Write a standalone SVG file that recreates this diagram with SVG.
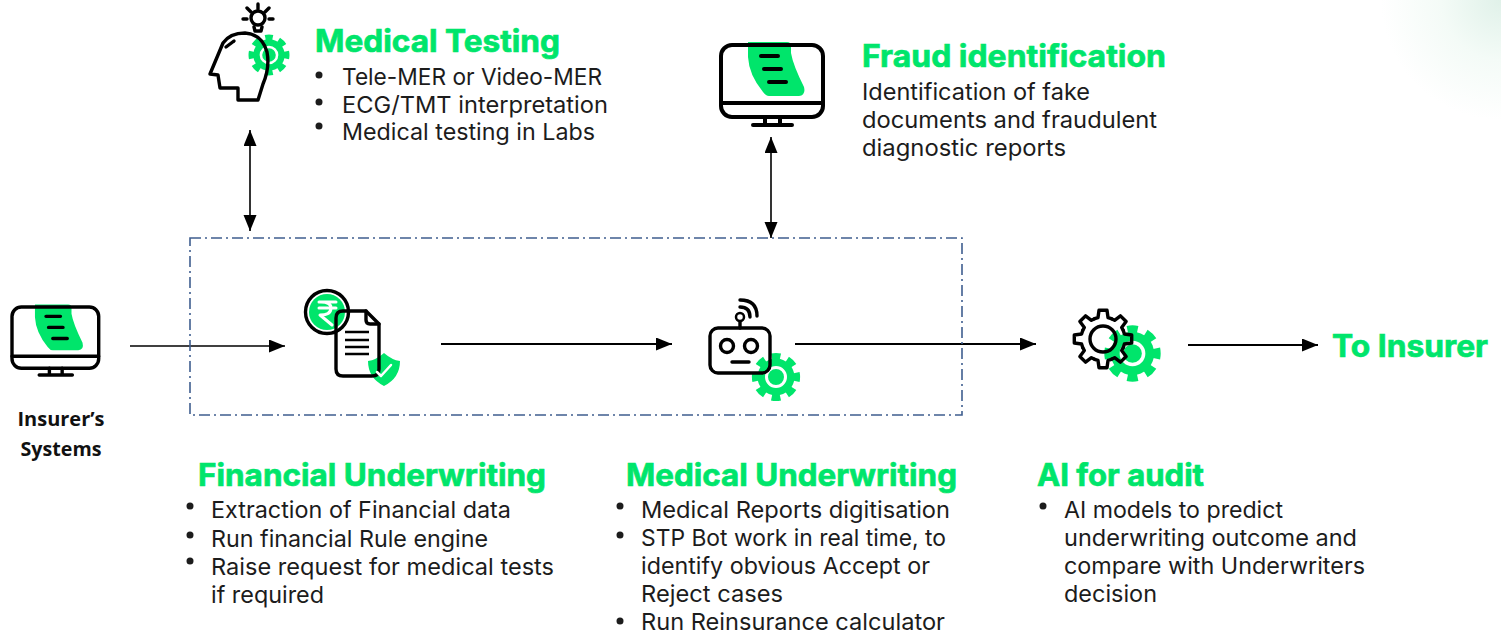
<svg xmlns="http://www.w3.org/2000/svg" xmlns:xlink="http://www.w3.org/1999/xlink" width="1501" height="636" viewBox="0 0 1501 636">
<style>
text{font-family:"Inter","Open Sans","Liberation Sans",sans-serif}
.b{font-size:23px;fill:#1c1c1c}
.h{font-size:31px;font-weight:700;fill:#00e56b;stroke:#00e56b;stroke-width:.7px}
.s{font-family:"Open Sans","Noto Sans",sans-serif;font-size:20px;font-weight:700;fill:#111;text-anchor:middle}
.k{fill:none;stroke:#000;stroke-width:4;stroke-linecap:round;stroke-linejoin:round}
.k3{fill:none;stroke:#000;stroke-width:3.4;stroke-linecap:round;stroke-linejoin:round}
.c{fill:none;stroke:#000;stroke-width:1.6}
.c2{fill:none;stroke:#000;stroke-width:2.2}
.dot{fill:#1c1c1c}
</style>
<defs>
<radialGradient id="corner" cx="1501" cy="0" r="120" gradientUnits="userSpaceOnUse">
<stop offset="0" stop-color="#e0f1e9"/><stop offset=".5" stop-color="#f4fbf7"/><stop offset="1" stop-color="#fff"/>
</radialGradient>
<marker id="a" markerWidth="17" markerHeight="14" refX="16" refY="6.500" orient="auto-start-reverse" markerUnits="userSpaceOnUse"><path d="M0 0L16 6.500L0 13z" fill="#000"/></marker>
<g id="monitor">
<path d="M27-3H66Q70-3 70 1V8Q72 20 83 42Q85 50 78 51H48Q45 51 42 47Q28 30 27 12z" fill="#00e56b"/>
<rect x="0" y="0" width="102" height="72" rx="11" class="k"/>
<path d="M0 58H102M44 72V80M59 72V80M32 80H71" class="k"/>
<path d="M40 11H57M43 24H60M48 37H65" class="k"/>
</g>
<g id="gear">
<circle r="20.6" fill="none" stroke="#00e56b" stroke-width="7" pathLength="16" stroke-dasharray="1.1 .9" stroke-dashoffset=".55"/>
<circle r="18.5" fill="#00e56b"/>
<circle r="9.5" fill="none" stroke="#fff" stroke-width="3"/>
</g>
<path id="t" d="M-8.4-20.3L-5-21.4L-4-28.7L4-28.7L5-21.4L8.4-20.3" class="k3"/>
</defs>
<rect width="1501" height="636" fill="#fff"/>
<rect x="1380" y="0" width="121" height="120" fill="url(#corner)"/>

<g id="connectors">
<path d="M130 346H285" class="c" marker-end="url(#a)"/>
<path d="M441 344H672" class="c2" marker-end="url(#a)"/>
<path d="M795 344H1036" class="c2" marker-end="url(#a)"/>
<path d="M1188 345H1318" class="c2" marker-end="url(#a)"/>
<path d="M250 130V231" class="c" marker-start="url(#a)" marker-end="url(#a)"/>
<path d="M771 137V238" class="c" marker-start="url(#a)" marker-end="url(#a)"/>
</g>

<g id="boundary"><rect x="190" y="238" width="772" height="177" fill="none" stroke="#3f5e8f" stroke-width="1.6" stroke-dasharray="11 4 2 4"/></g>

<g id="insurer-systems">
<use xlink:href="#monitor" href="#monitor" transform="translate(12 307) scale(.85)"/>
<text class="s" x="61" y="426" textLength="87" lengthAdjust="spacingAndGlyphs">Insurer’s</text>
<text class="s" x="61" y="456" textLength="81" lengthAdjust="spacingAndGlyphs">Systems</text>
</g>

<g id="medical-testing">
<use href="#gear" transform="translate(269 55) scale(.85)"/>
<path d="M210 74L223 43Q230 33 245 33Q262 34 267 52Q270 68 263 84L258 100H238V88H220L218 75z" class="k3"/>
<path d="M226 47L234 41" class="k3"/>
<circle cx="258" cy="18" r="7" class="k3"/>
<path d="M254 27L255 31H261L262 27M258 4V9M247 8L251 12M269 8L265 12M243 19H247M269 19H273" class="k3"/>
<text class="h" x="315" y="52" textLength="245" lengthAdjust="spacingAndGlyphs">Medical Testing</text>
<circle class="dot" cx="319" cy="75" r="3.5"/><circle class="dot" cx="319" cy="102" r="3.5"/><circle class="dot" cx="319" cy="126" r="3.5"/>
<text class="b" x="342" y="85" textLength="260" lengthAdjust="spacingAndGlyphs">Tele-MER or Video-MER</text>
<text class="b" x="342" y="113" textLength="266" lengthAdjust="spacingAndGlyphs">ECG/TMT interpretation</text>
<text class="b" x="342" y="140" textLength="253" lengthAdjust="spacingAndGlyphs">Medical testing in Labs</text>
</g>

<g id="fraud-identification">
<use href="#monitor" transform="translate(721 45)"/>
<text class="h" x="862" y="67" textLength="304" lengthAdjust="spacingAndGlyphs">Fraud identification</text>
<text class="b" x="862" y="100" textLength="228" lengthAdjust="spacingAndGlyphs">Identification of fake</text>
<text class="b" x="862" y="128" textLength="295" lengthAdjust="spacingAndGlyphs">documents and fraudulent</text>
<text class="b" x="862" y="156" textLength="204" lengthAdjust="spacingAndGlyphs">diagnostic reports</text>
</g>

<g id="financial-underwriting">
<circle cx="327" cy="312" r="18" fill="#00e56b"/>
<path d="M319 302H336M319 308H336M321 302Q331 302 331 308Q331 315 320 315L332 325" fill="none" stroke="#fff" stroke-width="3" stroke-linecap="round" stroke-linejoin="round"/>
<path d="M384 353Q376 360 368 361Q368 378 384 386Q400 378 400 361Q392 360 384 353z" fill="#00e56b"/>
<path d="M343 311H366L379 324V369Q379 376 372 376H343Q336 376 336 369V318Q336 311 343 311z" class="k3"/>
<path d="M366 311V320Q366 324 370 324H379" class="k3"/>
<path d="M345 332H369M345 340H369M345 347H369M345 354H369" class="k3" style="stroke-linecap:butt;stroke-width:2.6"/>
<circle cx="327" cy="312" r="21.5" class="k3"/>
<path d="M377 372L381 376L391 365" fill="none" stroke="#fff" stroke-width="2.5" stroke-linecap="round" stroke-linejoin="round"/>
<text class="h" x="198" y="486" textLength="348" lengthAdjust="spacingAndGlyphs">Financial Underwriting</text>
<circle class="dot" cx="190" cy="506" r="3.5"/><circle class="dot" cx="190" cy="535" r="3.5"/><circle class="dot" cx="190" cy="561" r="3.5"/>
<text class="b" x="211" y="518" textLength="300" lengthAdjust="spacingAndGlyphs">Extraction of Financial data</text>
<text class="b" x="211" y="547" textLength="277" lengthAdjust="spacingAndGlyphs">Run financial Rule engine</text>
<text class="b" x="211" y="575" textLength="343" lengthAdjust="spacingAndGlyphs">Raise request for medical tests</text>
<text class="b" x="211" y="603" textLength="113" lengthAdjust="spacingAndGlyphs">if required</text>
</g>

<g id="medical-underwriting">
<use href="#gear" transform="translate(776 377)"/>
<rect x="710" y="328" width="60" height="45" rx="8" class="k3"/>
<circle cx="727" cy="346" r="6.500" class="k3"/><circle cx="751" cy="346" r="6.500" class="k3"/>
<path d="M732 362H749M740 322V328" class="k3"/>
<circle cx="740" cy="317" r="4" class="k3" style="stroke-width:2.5"/>
<path d="M740 307Q750 307 750 317M740 300Q757 300 757 316" class="k3"/>
<text class="h" x="626" y="486" textLength="331" lengthAdjust="spacingAndGlyphs">Medical Underwriting</text>
<circle class="dot" cx="620" cy="506" r="3.5"/><circle class="dot" cx="620" cy="535" r="3.5"/><circle class="dot" cx="620" cy="621" r="3.5"/>
<text class="b" x="641" y="518" textLength="309" lengthAdjust="spacingAndGlyphs">Medical Reports digitisation</text>
<text class="b" x="641" y="546" textLength="305" lengthAdjust="spacingAndGlyphs">STP Bot work in real time, to</text>
<text class="b" x="641" y="574" textLength="289" lengthAdjust="spacingAndGlyphs">identify obvious Accept or</text>
<text class="b" x="641" y="602" textLength="142" lengthAdjust="spacingAndGlyphs">Reject cases</text>
<text class="b" x="641" y="630" textLength="304" lengthAdjust="spacingAndGlyphs">Run Reinsurance calculator</text>
</g>

<g id="ai-for-audit">
<use href="#gear" transform="translate(1132.500 353.500) scale(1.17)"/>
<g transform="translate(1103 339)">
<use href="#t"/><use href="#t" transform="rotate(45)"/><use href="#t" transform="rotate(90)"/><use href="#t" transform="rotate(135)"/><use href="#t" transform="rotate(180)"/><use href="#t" transform="rotate(225)"/><use href="#t" transform="rotate(270)"/><use href="#t" transform="rotate(315)"/>
<circle r="13" class="k3"/>
</g>
<text class="h" x="1037" y="486" textLength="167" lengthAdjust="spacingAndGlyphs">AI for audit</text>
<circle class="dot" cx="1043" cy="506" r="3.5"/>
<text class="b" x="1064" y="518" textLength="219" lengthAdjust="spacingAndGlyphs">AI models to predict</text>
<text class="b" x="1064" y="546" textLength="293" lengthAdjust="spacingAndGlyphs">underwriting outcome and</text>
<text class="b" x="1064" y="574" textLength="301" lengthAdjust="spacingAndGlyphs">compare with Underwriters</text>
<text class="b" x="1064" y="602" textLength="93" lengthAdjust="spacingAndGlyphs">decision</text>
</g>

<g id="to-insurer">
<text class="h" x="1332" y="357" textLength="156" lengthAdjust="spacingAndGlyphs">To Insurer</text>
</g>
</svg>
